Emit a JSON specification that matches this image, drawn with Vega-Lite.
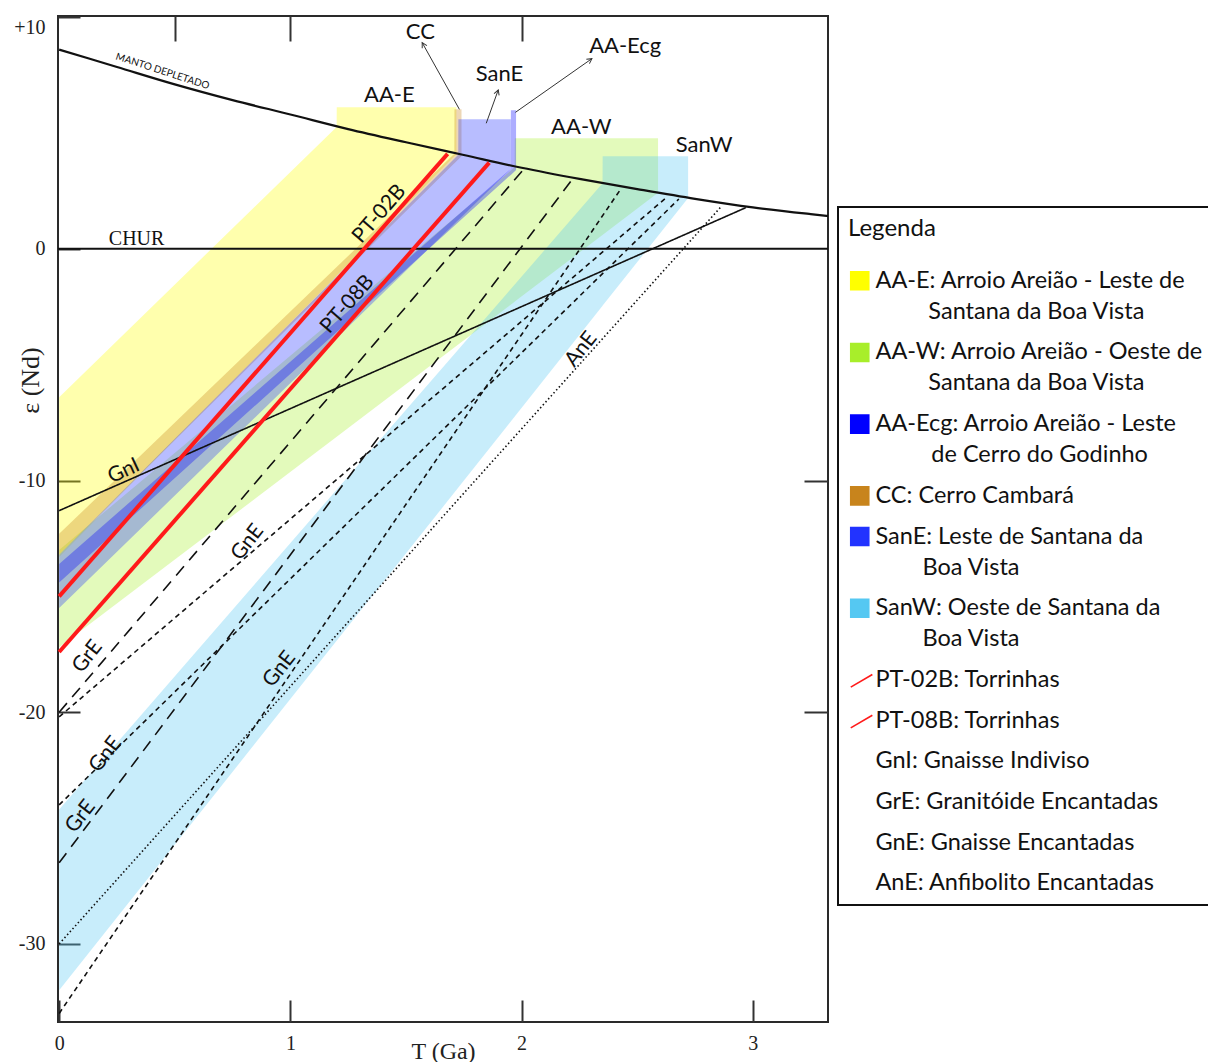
{
  "$schema": "https://vega.github.io/schema/vega-lite/v6.json",
  "width": 770,
  "height": 1006,
  "autosize": "none",
  "padding": {"left": 58, "top": 16, "right": 380, "bottom": 40},
  "background": "white",
  "config": {
    "view": {"stroke": "#2a2a2a", "strokeWidth": 2},
    "font": "Lato",
    "legend": {"strokeWidth": 2},
    "style": {"guide-label": {"lineHeight": 31}}
  },
  "datasets": {
    "areas": [
      {"unit": "AA-E", "T": 0, "e": -6.4, "e2": -13.3},
      {"unit": "AA-E", "T": 1.2, "e": 5.26, "e2": -1.16},
      {"unit": "AA-E", "T": 1.2005, "e": 6.11, "e2": -1.155},
      {"unit": "AA-E", "T": 1.718, "e": 6.11, "e2": 4.08},
      {"unit": "AA-W", "T": 0, "e": -13.0, "e2": -17.2},
      {"unit": "AA-W", "T": 1.97, "e": 3.52, "e2": -2.28},
      {"unit": "AA-W", "T": 1.9705, "e": 4.77, "e2": -2.276},
      {"unit": "AA-W", "T": 2.59, "e": 4.77, "e2": 2.42},
      {"unit": "SanW", "T": 0, "e": -24.2, "e2": -32.0},
      {"unit": "SanW", "T": 2.35, "e": 2.83, "e2": -2.46},
      {"unit": "SanW", "T": 2.3505, "e": 4.0, "e2": -2.45},
      {"unit": "SanW", "T": 2.72, "e": 4.0, "e2": 2.19},
      {"unit": "CC", "T": 0, "e": -12.3, "e2": -13.2},
      {"unit": "CC", "T": 1.709, "e": 4.1, "e2": 3.69},
      {"unit": "CC", "T": 1.7095, "e": 6.02, "e2": 3.69},
      {"unit": "CC", "T": 1.74, "e": 6.02, "e2": 4.0},
      {"unit": "SanE", "T": 0, "e": -13.2, "e2": -15.5},
      {"unit": "SanE", "T": 1.726, "e": 4.06, "e2": 1.25},
      {"unit": "SanE", "T": 1.7265, "e": 5.59, "e2": 1.25},
      {"unit": "SanE", "T": 1.953, "e": 5.59, "e2": 3.45},
      {"unit": "AA-Ecg", "T": 0, "e": -13.6, "e2": -14.4},
      {"unit": "AA-Ecg", "T": 1.953, "e": 3.45, "e2": 3.19},
      {"unit": "AA-Ecg", "T": 1.9535, "e": 5.98, "e2": 3.19},
      {"unit": "AA-Ecg", "T": 1.976, "e": 5.98, "e2": 3.4}
    ],
    "dm": [
      {"T": 0, "e": 8.6}, {"T": 0.25, "e": 7.85}, {"T": 0.5, "e": 7.1}, {"T": 0.75, "e": 6.42},
      {"T": 1.0, "e": 5.8}, {"T": 1.25, "e": 5.17}, {"T": 1.5, "e": 4.6}, {"T": 1.75, "e": 4.05},
      {"T": 2.0, "e": 3.5}, {"T": 2.25, "e": 3.02}, {"T": 2.5, "e": 2.58}, {"T": 2.75, "e": 2.16},
      {"T": 3.0, "e": 1.79}, {"T": 3.25, "e": 1.5}, {"T": 3.325, "e": 1.42}
    ],
    "chur": [{"T": -0.005, "e": 0}, {"T": 3.325, "e": 0}],
    "pt": [
      {"unit": "PT-02B", "T": 0, "e": -15.0}, {"unit": "PT-02B", "T": 1.68, "e": 4.1},
      {"unit": "PT-08B", "T": 0, "e": -17.4}, {"unit": "PT-08B", "T": 1.86, "e": 3.72}
    ],
    "curves": [
      {"id": "GnI", "type": "GnI", "T": 0, "e": -11.3}, {"id": "GnI", "type": "GnI", "T": 2.97, "e": 1.78},
      {"id": "GrE1", "type": "GrE", "T": 0, "e": -20.0}, {"id": "GrE1", "type": "GrE", "T": 2.01, "e": 3.45},
      {"id": "GrE2", "type": "GrE", "T": 0, "e": -26.5}, {"id": "GrE2", "type": "GrE", "T": 2.215, "e": 2.95},
      {"id": "GnE1", "type": "GnE", "T": 0, "e": -20.2}, {"id": "GnE1", "type": "GnE", "T": 2.63, "e": 2.25},
      {"id": "GnE2", "type": "GnE", "T": 0, "e": -24.0}, {"id": "GnE2", "type": "GnE", "T": 2.68, "e": 2.15},
      {"id": "GnE3", "type": "GnE", "T": 0, "e": -33.0}, {"id": "GnE3", "type": "GnE", "T": 2.43, "e": 2.6},
      {"id": "AnE", "type": "AnE", "T": 0, "e": -30.0}, {"id": "AnE", "type": "AnE", "T": 2.86, "e": 1.79}
    ],
    "arrows": [
      {"name": "CC", "T": 1.731, "e": 6.02, "T2": 1.57, "e2": 8.9},
      {"name": "SanE", "T": 1.847, "e": 5.42, "T2": 1.899, "e2": 6.86},
      {"name": "AA-Ecg", "T": 1.973, "e": 5.89, "T2": 2.304, "e2": 8.21}
    ],
    "labels": [
      {"txt": "AA-E", "g": "h", "T": 1.428, "e": 6.63},
      {"txt": "CC", "g": "h", "T": 1.562, "e": 9.35},
      {"txt": "SanE", "g": "h", "T": 1.904, "e": 7.53},
      {"txt": "AA-Ecg", "g": "h", "T": 2.448, "e": 8.74},
      {"txt": "AA-W", "g": "h", "T": 2.258, "e": 5.25},
      {"txt": "SanW", "g": "h", "T": 2.789, "e": 4.47},
      {"txt": "CHUR", "g": "chur", "T": 0.335, "e": 0.41},
      {"txt": "MANTO DEPLETADO", "g": "dm", "T": 0.447, "e": 7.66},
      {"txt": "PT-02B", "g": "pt", "T": 1.385, "e": 1.5},
      {"txt": "PT-08B", "g": "pt", "T": 1.247, "e": -2.4},
      {"txt": "GnI", "g": "gni", "T": 0.28, "e": -9.6},
      {"txt": "GnE", "g": "d", "T": 0.815, "e": -12.67},
      {"txt": "GrE", "g": "d", "T": 0.123, "e": -17.6},
      {"txt": "GnE", "g": "d", "T": 0.953, "e": -18.15},
      {"txt": "GnE", "g": "d", "T": 0.201, "e": -21.83},
      {"txt": "GrE", "g": "d", "T": 0.093, "e": -24.5},
      {"txt": "AnE", "g": "d", "T": 2.258, "e": -4.34}
    ]
  },
  "encoding": {
    "x": {"field": "T", "type": "quantitative", "scale": {"domain": [-0.005, 3.325], "nice": false, "zero": false}, "axis": null},
    "y": {"field": "e", "type": "quantitative", "scale": {"domain": [-33.37, 10.05], "nice": false, "zero": false}, "axis": null}
  },
  "layer": [
    {
      "data": {"name": "areas"},
      "mark": {"type": "area", "opacity": 0.32},
      "encoding": {
        "y2": {"field": "e2"},
        "color": {
          "field": "unit", "type": "nominal",
          "scale": {
            "domain": ["AA-E", "AA-W", "AA-Ecg", "CC", "SanE", "SanW", "PT-02B", "PT-08B", "GnI", "GrE", "GnE", "AnE"],
            "range": ["#FFFF00", "#A8EE2A", "#0000FF", "#C8841C", "#2233FF", "#55C8F2", "#FF1A1A", "#FF1A1A", "#000000", "#000000", "#000000", "#000000"]
          },
          "legend": {
            "title": "Legenda",
            "orient": "none",
            "legendX": 780,
            "legendY": 191,
            "direction": "vertical",
            "columns": 1,
            "padding": 10,
            "strokeColor": "#111",
            "titleFont": "Lato",
            "titleFontSize": 24,
            "titleFontWeight": "normal",
            "titleColor": "#111",
            "titlePadding": 28,
            "labelFont": "Lato",
            "labelFontSize": 23.5,
            "labelColor": "#111",
            "labelLimit": 400,
            "labelOffset": 4,
            "labelBaseline": "middle",
            "rowPadding": 15.7,
            "symbolSize": 324,
            "symbolStrokeWidth": 1.6,
            "symbolOpacity": 1,
            "labelExpr": "datum.label == 'AA-E' ? ['AA-E: Arroio Areião - Leste de', '\u200b\u2003\u2003\u2003Santana da Boa Vista'] : datum.label == 'AA-W' ? ['AA-W: Arroio Areião - Oeste de', '\u200b\u2003\u2003\u2003Santana da Boa Vista'] : datum.label == 'AA-Ecg' ? ['AA-Ecg: Arroio Areião - Leste', '\u200b\u2003\u2003\u2003\u2009de Cerro do Godinho'] : datum.label == 'CC' ? 'CC: Cerro Cambará' : datum.label == 'SanE' ? ['SanE: Leste de Santana da', '\u200b\u2003\u2003\u2002Boa Vista'] : datum.label == 'SanW' ? ['SanW: Oeste de Santana da', '\u200b\u2003\u2003\u2002Boa Vista'] : datum.label == 'PT-02B' ? 'PT-02B: Torrinhas' : datum.label == 'PT-08B' ? 'PT-08B: Torrinhas' : datum.label == 'GnI' ? 'GnI: Gnaisse Indiviso' : datum.label == 'GrE' ? 'GrE: Granitóide Encantadas' : datum.label == 'GnE' ? 'GnE: Gnaisse Encantadas' : 'AnE: Anfibolito Encantadas'"
          }
        }
      }
    },
    {
      "data": {"name": "pt"},
      "mark": {"type": "point", "filled": true, "opacity": 0, "size": 10},
      "encoding": {
        "shape": {
          "field": "unit", "type": "nominal",
          "scale": {
            "domain": ["AA-E", "AA-W", "AA-Ecg", "CC", "SanE", "SanW", "PT-02B", "PT-08B", "GnI", "GrE", "GnE", "AnE"],
            "range": ["square", "square", "square", "square", "square", "square", "M-1,0.8L1.4,-0.6", "M-1,0.8L1.4,-0.6", "M0,0", "M0,0", "M0,0", "M0,0"]
          }
        }
      }
    },
    {
      "data": {"name": "dm"},
      "mark": {"type": "line", "color": "#111", "strokeWidth": 2.2, "interpolate": "monotone"},
      "encoding": {
        "x": {"field": "T", "type": "quantitative", "scale": {"domain": [-0.005, 3.325], "nice": false, "zero": false},
          "axis": {"orient": "bottom", "values": [0, 1, 2, 3], "tickSize": -22, "tickColor": "#333", "tickWidth": 2, "domain": false, "grid": false,
            "labelFont": "Liberation Serif", "labelFontSize": 20, "labelColor": "#222", "labelPadding": 33, "labelExpr": "'' + datum.value",
            "title": "T (Ga)", "titleFont": "Liberation Serif", "titleFontSize": 24, "titleFontWeight": "normal", "titleColor": "#222", "titleY": 36, "titleBaseline": "alphabetic"}},
        "y": {"field": "e", "type": "quantitative", "scale": {"domain": [-33.37, 10.05], "nice": false, "zero": false},
          "axis": {"orient": "left", "values": [10, 0, -10, -20, -30], "tickSize": -22, "tickColor": "#333", "tickWidth": 2, "domain": false, "grid": false,
            "labelFont": "Liberation Serif", "labelFontSize": 20, "labelColor": "#222", "labelPadding": 35, "labelFlush": 5,
            "labelExpr": "datum.value > 0 ? '+' + datum.value : '' + datum.value",
            "title": "ε (Nd)", "titleFont": "Liberation Serif", "titleFontSize": 26, "titleFontWeight": "normal", "titleColor": "#222",
            "titleX": -28, "titleY": 364, "titleAngle": 270, "titleAlign": "center", "titleBaseline": "middle"}}
      }
    },
    {
      "data": {"name": "chur"},
      "mark": {"type": "line", "color": "#111", "strokeWidth": 2},
      "encoding": {}
    },
    {
      "data": {"name": "curves"},
      "mark": {"type": "line", "color": "#111", "strokeWidth": 1.6},
      "encoding": {
        "x": {"field": "T", "type": "quantitative", "scale": {"domain": [-0.005, 3.325], "nice": false, "zero": false},
          "axis": {"orient": "top", "values": [0.5, 1, 2], "tickSize": -25, "tickColor": "#333", "tickWidth": 2, "domain": false, "grid": false, "labels": false, "title": null}},
        "y": {"field": "e", "type": "quantitative", "scale": {"domain": [-33.37, 10.05], "nice": false, "zero": false},
          "axis": {"orient": "right", "values": [-10, -20], "tickSize": -24, "tickColor": "#333", "tickWidth": 2, "domain": false, "grid": false, "labels": false, "title": null}},
        "detail": {"field": "id"},
        "strokeDash": {"field": "type", "type": "nominal", "scale": {"domain": ["GnI", "GrE", "GnE", "AnE"], "range": [[1, 0], [12, 8], [5, 4], [1.5, 2.5]]}, "legend": null}
      }
    },
    {
      "data": {"name": "pt"},
      "mark": {"type": "line", "strokeWidth": 4},
      "encoding": {
        "color": {"field": "unit", "type": "nominal"}
      }
    },
    {
      "data": {"name": "arrows"},
      "mark": {"type": "rule", "color": "#333", "strokeWidth": 1},
      "encoding": {
        "x2": {"field": "T2"},
        "y2": {"field": "e2"}
      }
    },
    {
      "data": {"name": "arrows"},
      "transform": [{"filter": "datum.name == 'CC'"}],
      "mark": {"type": "point", "shape": "M-0.6,1.1L0,0L0.6,1.1", "filled": false, "color": "#333", "strokeWidth": 1, "size": 80, "angle": 331, "opacity": 1},
      "encoding": {"x": {"field": "T2", "type": "quantitative"}, "y": {"field": "e2", "type": "quantitative"}}
    },
    {
      "data": {"name": "arrows"},
      "transform": [{"filter": "datum.name == 'SanE'"}],
      "mark": {"type": "point", "shape": "M-0.6,1.1L0,0L0.6,1.1", "filled": false, "color": "#333", "strokeWidth": 1, "size": 80, "angle": 20, "opacity": 1},
      "encoding": {"x": {"field": "T2", "type": "quantitative"}, "y": {"field": "e2", "type": "quantitative"}}
    },
    {
      "data": {"name": "arrows"},
      "transform": [{"filter": "datum.name == 'AA-Ecg'"}],
      "mark": {"type": "point", "shape": "M-0.6,1.1L0,0L0.6,1.1", "filled": false, "color": "#333", "strokeWidth": 1, "size": 80, "angle": 55, "opacity": 1},
      "encoding": {"x": {"field": "T2", "type": "quantitative"}, "y": {"field": "e2", "type": "quantitative"}}
    },
    {
      "data": {"name": "labels"},
      "transform": [{"filter": "datum.g == 'h'"}],
      "mark": {"type": "text", "font": "Lato", "fontSize": 22, "align": "center", "baseline": "middle", "color": "#111"},
      "encoding": {"text": {"field": "txt"}}
    },
    {
      "data": {"name": "labels"},
      "transform": [{"filter": "datum.g == 'chur'"}],
      "mark": {"type": "text", "font": "Liberation Serif", "fontSize": 20, "align": "center", "baseline": "middle", "color": "#111"},
      "encoding": {"text": {"field": "txt"}}
    },
    {
      "data": {"name": "labels"},
      "transform": [{"filter": "datum.g == 'dm'"}],
      "mark": {"type": "text", "font": "Lato", "fontSize": 10, "align": "center", "baseline": "middle", "color": "#111", "angle": 18},
      "encoding": {"text": {"field": "txt"}}
    },
    {
      "data": {"name": "labels"},
      "transform": [{"filter": "datum.g == 'pt'"}],
      "mark": {"type": "text", "font": "Lato", "fontSize": 21, "align": "center", "baseline": "middle", "color": "#111", "angle": 311},
      "encoding": {"text": {"field": "txt"}}
    },
    {
      "data": {"name": "labels"},
      "transform": [{"filter": "datum.g == 'gni'"}],
      "mark": {"type": "text", "font": "Lato", "fontSize": 21, "align": "center", "baseline": "middle", "color": "#111", "angle": 335},
      "encoding": {"text": {"field": "txt"}}
    },
    {
      "data": {"name": "labels"},
      "transform": [{"filter": "datum.g == 'd'"}],
      "mark": {"type": "text", "font": "Lato", "fontSize": 21, "align": "center", "baseline": "middle", "color": "#111", "angle": 308},
      "encoding": {"text": {"field": "txt"}}
    }
  ],
  "resolve": {"axis": {"x": "independent", "y": "independent"}}
}
